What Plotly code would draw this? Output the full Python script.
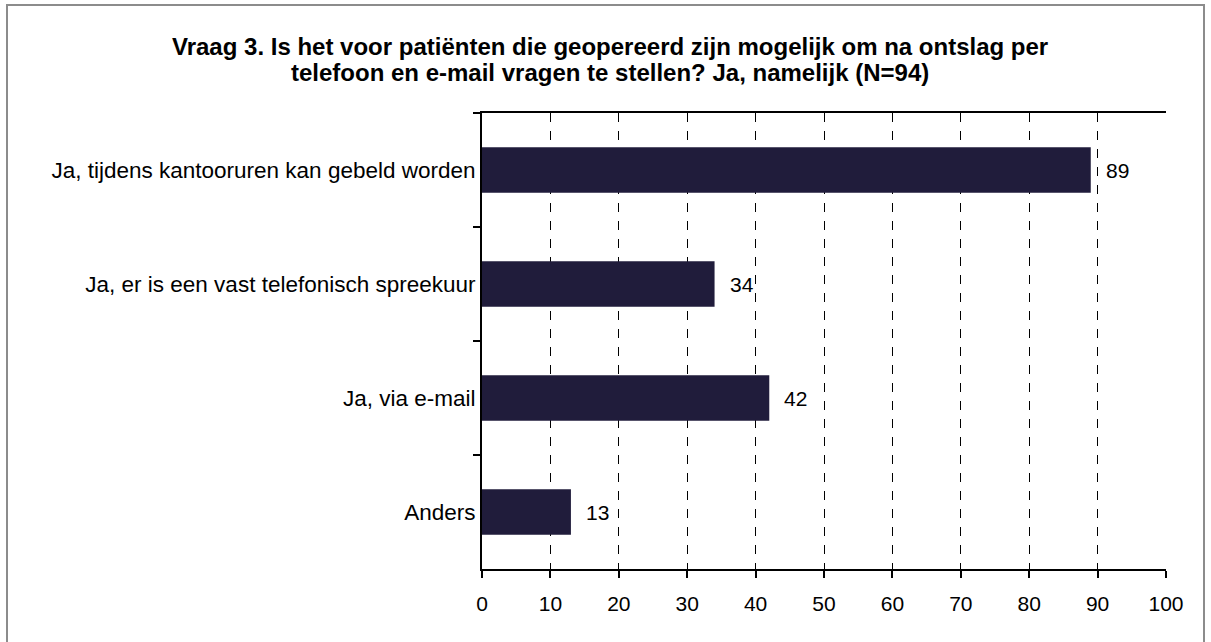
import plotly.graph_objects as go

categories = [
    "Ja, tijdens kantooruren kan gebeld worden",
    "Ja, er is een vast telefonisch spreekuur",
    "Ja, via e-mail",
    "Anders",
]
values = [89, 34, 42, 13]
x_ticks = [0, 10, 20, 30, 40, 50, 60, 70, 80, 90, 100]
title_lines = [
    "Vraag 3. Is het voor patiënten die geopereerd zijn mogelijk om na ontslag per",
    "telefoon en e-mail vragen te stellen? Ja, namelijk (N=94)",
]

W, H = 1211, 642
L, R, T, B = 482, 1166, 113, 569
FONT = "Liberation Sans, Arial"

fig = go.Figure()
fig.add_trace(go.Bar(
    x=values, y=categories, orientation="h",
    marker=dict(color="#201c3b", line=dict(width=0)),
    hoverinfo="skip",
))

for v, c in zip(values, categories):
    fig.add_annotation(x=v, y=c, text=str(v), showarrow=False,
                       xanchor="left", yanchor="middle", xshift=13,
                       font=dict(size=21, color="#000000", family=FONT))

pw, ph = R - L, B - T
def px_x(p):
    return (p - L) / pw
def px_y(p):
    return (B - p) / ph

for line, ypix in zip(title_lines, [46, 73]):
    fig.add_annotation(xref="paper", yref="paper", x=px_x(610), y=px_y(ypix),
                       text="<b>" + line + "</b>", showarrow=False,
                       xanchor="center", yanchor="middle",
                       font=dict(size=24, family=FONT, color="#000000"))

fig.add_shape(type="rect", xref="paper", yref="paper",
              x0=px_x(7), x1=px_x(1204), y0=px_y(720), y1=px_y(5),
              line=dict(color="#8c8c8c", width=2), fillcolor="rgba(0,0,0,0)", layer="below")

fig.update_layout(
    width=W, height=H,
    margin=dict(l=L, r=W - R, t=T, b=H - B, pad=0),
    paper_bgcolor="white", plot_bgcolor="white",
    bargap=0.6,
    showlegend=False,
    font=dict(family=FONT, size=22, color="#000000"),
    xaxis=dict(range=[0, 100], tickvals=x_ticks, ticktext=[str(t) for t in x_ticks],
               showgrid=True, gridcolor="#000000", griddash="dash", gridwidth=1.3,
               showline=True, linecolor="#000000", linewidth=2, mirror=True,
               ticks="outside", ticklen=7, tickwidth=2, tickcolor="#000000",
               ticklabelstandoff=8,
               zeroline=False, tickfont=dict(size=21)),
    yaxis=dict(autorange="reversed", type="category",
               showline=True, linecolor="#000000", linewidth=2,
               ticks="outside", tickson="boundaries", ticklen=7, tickwidth=2,
               tickcolor="#000000", showgrid=False, tickfont=dict(size=22.5)),
)

fig.write_html(
    "out.html",
    config={"displayModeBar": False},
    post_script="document.body.style.margin='0';document.body.style.overflow='hidden';",
)
